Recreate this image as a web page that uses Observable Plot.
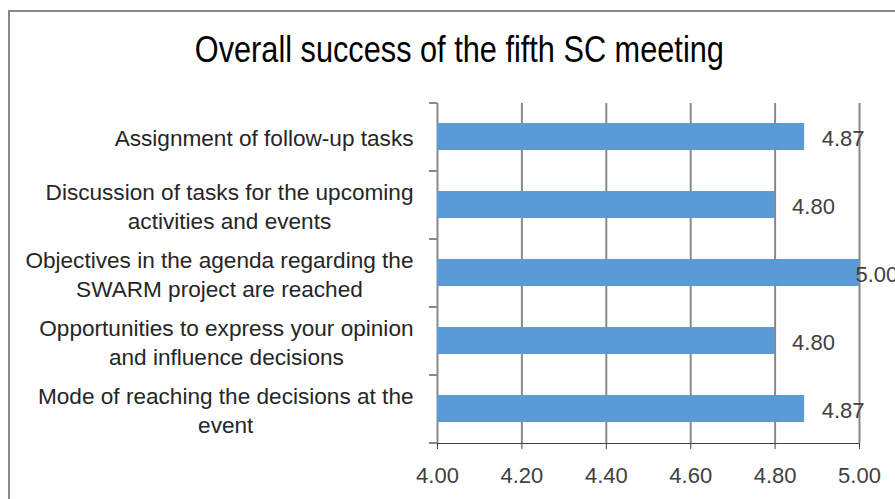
<!DOCTYPE html>
<html><head><meta charset="utf-8">
<script src="https://cdn.jsdelivr.net/npm/d3@7"></script>
<script src="https://cdn.jsdelivr.net/npm/@observablehq/plot@0.6"></script>
<style>
body{margin:0;background:#fff;}
#wrap{position:relative;width:895px;height:499px;overflow:hidden;background:#fff;}
#frame{position:absolute;left:8px;top:10px;width:896px;height:600px;border:2px solid #898989;}
#title{position:absolute;left:10px;width:896px;top:32px;text-align:center;font-size:36px;line-height:36px;color:#000;font-family:"Liberation Sans";transform:scaleX(0.853);transform-origin:457px 0;white-space:nowrap;}
#chart{position:absolute;left:0;top:90px;}
</style></head>
<body><div id="wrap"><div id="frame"></div><div id="title">Overall success of the fifth SC meeting</div><div id="chart"></div></div>
<script>
const categories = [
  "Assignment of follow-up tasks",
  "Discussion of tasks for the upcoming\nactivities and events",
  "Objectives in the agenda regarding the\nSWARM project are reached",
  "Opportunities to express your opinion\nand influence decisions",
  "Mode of reaching the decisions at the\nevent"
];
const values = [4.87, 4.80, 5.00, 4.80, 4.87];
const valueLabels = ["4.87", "4.80", "5.00", "4.80", "4.87"];
const xTicks = [4.0, 4.2, 4.4, 4.6, 4.8, 5.0];
const xDomain = [4.0, 5.0];

const font = "Liberation Sans";
const catSize = 22.6;
const numSize = 22;
const rows = categories.map((c, i) => ({category: c, value: values[i], label: valueLabels[i]}));
const W = 895, H = 409, mT = 13, mB = 56, mL = 437, mR = 36;
const step = (H - mT - mB) / categories.length;
const cv = document.createElement("canvas").getContext("2d");
cv.font = `${catSize}px "${font}"`;
const maxW = s => Math.max(...s.split("\n").map(l => cv.measureText(l).width));
const gap = 24;
const grid = "#898989";

const plot = Plot.plot({
  width: W, height: H, marginTop: mT, marginBottom: mB, marginLeft: mL, marginRight: mR,
  style: {fontFamily: font, fontSize: numSize + "px", color: "#404040", background: "transparent"},
  x: {domain: xDomain, ticks: xTicks, tickFormat: d => d.toFixed(2), tickSize: 6, tickPadding: 18, line: true, label: null},
  y: {domain: categories, paddingInner: 0.6, paddingOuter: 0.3, axis: null},
  marks: [
    Plot.ruleX(xTicks, {x: d => d, stroke: grid, strokeWidth: 2}),
    Plot.barX(rows, {y: "category", x1: xDomain[0], x2: "value", fill: "#5B9BD5"}),
    Plot.ruleY(rows, {y: "category", dy: -step / 2, x1: xDomain[0], x2: xDomain[0], insetLeft: -8, stroke: grid, strokeWidth: 2}),
    Plot.ruleY(rows.slice(-1), {y: "category", dy: step / 2, x1: xDomain[0], x2: xDomain[0], insetLeft: -8, stroke: grid, strokeWidth: 2}),
    Plot.text(rows, {filter: d => d.value < xDomain[1], y: "category", x: "value", text: "label", textAnchor: "start", dx: 17, dy: 2, fill: "#404040", fontSize: numSize}),
    Plot.text(rows, {filter: d => d.value >= xDomain[1], y: "category", x: "value", text: "label", textAnchor: "start", dx: -4, dy: 2, fill: "#404040", fontSize: numSize}),
    ...rows.map(r => Plot.text([r], {y: "category", x: xDomain[0], text: "category", textAnchor: "middle", lineHeight: 1.3, fontSize: catSize, dx: -(gap + maxW(r.category) / 2), fill: "#262626"}))
  ]
});
document.getElementById("chart").appendChild(plot);
</script>
</body></html>
